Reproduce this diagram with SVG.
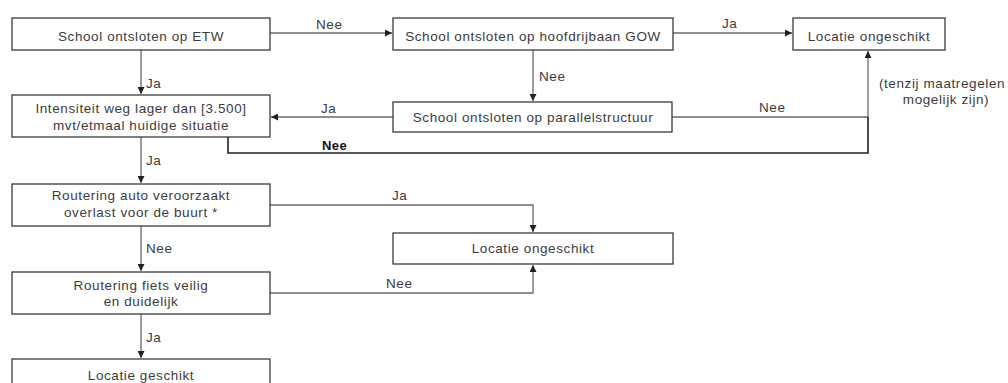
<svg xmlns="http://www.w3.org/2000/svg" width="1008" height="383" viewBox="0 0 1008 383">
<style>
.box{fill:#fff;stroke:#3a3a3a;stroke-width:1.3}
.t{font-family:"Liberation Sans",Arial,sans-serif;font-size:13.5px;fill:#3c3c3c;letter-spacing:0.6px}
.c{text-anchor:middle}
.ln{fill:none;stroke:#6a6a6a;stroke-width:1.3}
.dk{fill:none;stroke:#222;stroke-width:1.6}
.b{font-family:"Liberation Sans",Arial,sans-serif;font-size:13px;font-weight:bold;fill:#111;letter-spacing:0.4px}
</style>
<defs>
<marker id="ah" viewBox="0 0 10 10" refX="10" refY="5" markerWidth="7" markerHeight="7" orient="auto" markerUnits="userSpaceOnUse">
<path d="M0,0 L10,5 L0,10 z" fill="#222"/>
</marker>
</defs>
<rect width="1008" height="383" fill="#fff"/>
<g id="connectors">
<line class="ln" x1="270" y1="33" x2="392" y2="33" marker-end="url(#ah)"/>
<line class="ln" x1="673" y1="33" x2="792" y2="33" marker-end="url(#ah)"/>
<line class="ln" x1="533" y1="50" x2="533" y2="101" marker-end="url(#ah)"/>
<line class="ln" x1="141" y1="50" x2="141" y2="94" marker-end="url(#ah)"/>
<line class="ln" x1="393" y1="117" x2="271" y2="117" marker-end="url(#ah)"/>
<polyline class="ln" points="672,117 868,117 868,51" marker-end="url(#ah)"/>
<polyline class="dk" points="228,137 228,153 868,153 868,117"/>
<line class="ln" x1="141" y1="137" x2="141" y2="183" marker-end="url(#ah)"/>
<polyline class="ln" points="270,205 533,205 533,232" marker-end="url(#ah)"/>
<line class="ln" x1="141" y1="226" x2="141" y2="271" marker-end="url(#ah)"/>
<polyline class="ln" points="270,293 533,293 533,265" marker-end="url(#ah)"/>
<line class="ln" x1="141" y1="314" x2="141" y2="358" marker-end="url(#ah)"/>
<text class="t" x="316" y="29">Nee</text>
<text class="t" x="722" y="28">Ja</text>
<text class="t" x="539" y="81">Nee</text>
<text class="t" x="146" y="88">Ja</text>
<text class="t" x="321" y="113">Ja</text>
<text class="t" x="759" y="112">Nee</text>
<text class="b" x="322" y="150">Nee</text>
<text class="t" x="146" y="165">Ja</text>
<text class="t" x="392" y="200">Ja</text>
<text class="t" x="146" y="253">Nee</text>
<text class="t" x="386" y="288">Nee</text>
<text class="t" x="146" y="342">Ja</text>
<text class="t c" x="942" y="88">(tenzij maatregelen</text>
<text class="t c" x="946" y="104">mogelijk zijn)</text>
</g>
<g id="n1"><rect class="box" x="12" y="18" width="258" height="32"/><text class="t c" x="141" y="41">School ontsloten op ETW</text></g>
<g id="n2"><rect class="box" x="393" y="18" width="280" height="32"/><text class="t c" x="533" y="41">School ontsloten op hoofdrijbaan GOW</text></g>
<g id="n3"><rect class="box" x="793" y="18" width="152" height="32"/><text class="t c" x="869" y="41">Locatie ongeschikt</text></g>
<g id="n4"><rect class="box" x="12" y="95" width="258" height="42"/><text class="t c" x="141" y="113">Intensiteit weg lager dan [3.500]</text><text class="t c" x="141" y="130">mvt/etmaal huidige situatie</text></g>
<g id="n5"><rect class="box" x="393" y="102" width="279" height="30"/><text class="t c" x="533" y="122">School ontsloten op parallelstructuur</text></g>
<g id="n6"><rect class="box" x="12" y="184" width="258" height="42"/><text class="t c" x="141" y="200">Routering auto veroorzaakt</text><text class="t c" x="141" y="217">overlast voor de buurt *</text></g>
<g id="n7"><rect class="box" x="393" y="233" width="280" height="31"/><text class="t c" x="533" y="253">Locatie ongeschikt</text></g>
<g id="n8"><rect class="box" x="12" y="272" width="258" height="42"/><text class="t c" x="141" y="290">Routering fiets veilig</text><text class="t c" x="141" y="306">en duidelijk</text></g>
<g id="n9"><rect class="box" x="12" y="359" width="258" height="40"/><text class="t c" x="141" y="380">Locatie geschikt</text></g>
</svg>
